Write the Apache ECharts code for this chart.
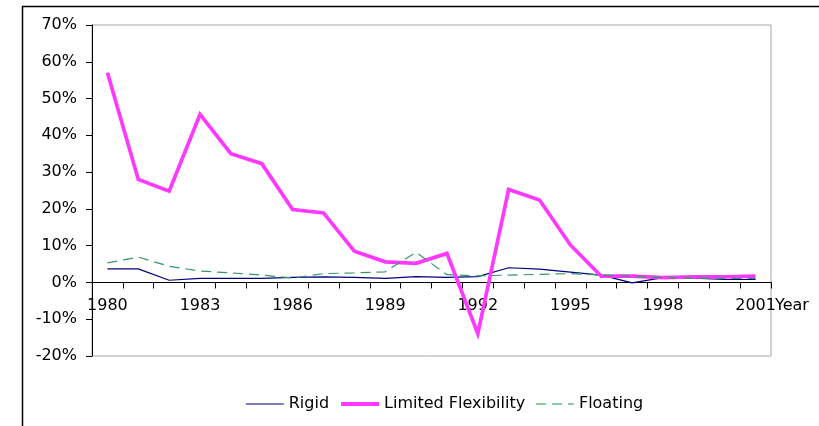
<!DOCTYPE html>
<html>
<head>
<meta charset="utf-8">
<script src="https://cdn.jsdelivr.net/npm/echarts@6/dist/echarts.min.js"></script>
<style>
html,body{margin:0;padding:0;background:#fff;}
#chart{width:819px;height:426px;}
</style>
</head>
<body>
<div id="chart"></div>
<script>
var years = ['1980','1981','1982','1983','1984','1985','1986','1987','1988','1989','1990',
             '1991','1992','1993','1994','1995','1996','1997','1998','1999','2000','2001'];
var rigid = [3.7,3.7,0.6,1.1,1.1,1.1,1.4,1.5,1.4,1.1,1.6,1.4,1.6,4.0,3.6,2.8,2.0,-0.1,1.3,1.2,0.8,0.8];
var limitedFlex = [57.0,28.0,24.8,45.7,35.0,32.3,19.8,18.9,8.5,5.6,5.2,7.9,-13.9,25.3,22.4,10.2,1.7,1.7,1.3,1.5,1.5,1.7];
var floating = [5.3,6.9,4.4,3.1,2.6,2.0,1.2,2.4,2.6,2.9,8.2,2.1,1.8,2.0,2.2,2.4,2.0,1.7,1.3,1.2,1.1,1.1];
var seriesNames = ['Rigid','Limited Flexibility','Floating'];
var xAxisName = 'Year';
var yMin = -20, yMax = 70, yStep = 10;

var FONT = 'DejaVu Sans';
var gridTop = 25, gridBottom = 70, H = 426;
var plotH = H - gridTop - gridBottom;
var zeroOffset = plotH * (0 - yMin) / (yMax - yMin);

var chart = echarts.init(document.getElementById('chart'), null, {renderer:'canvas'});
chart.setOption({
  animation: false,
  backgroundColor: '#ffffff',
  textStyle: {fontFamily: FONT, color: '#000'},
  graphic: [
    {type:'line', shape:{x1:22, y1:6.5, x2:819, y2:6.5}, style:{stroke:'#000', lineWidth:1.5}, silent:true},
    {type:'line', shape:{x1:22.5, y1:6, x2:22.5, y2:426}, style:{stroke:'#000', lineWidth:1.5}, silent:true}
  ],
  grid: {left:92, right:48, top:gridTop, bottom:gridBottom, show:true, borderColor:'#a6a6a6', borderWidth:1, backgroundColor:'transparent'},
  legend: {
    left: 240, top: 391,
    itemWidth: 38, itemHeight: 14, itemGap: 10,
    itemStyle: {color:'rgba(0,0,0,0)', borderColor:'rgba(0,0,0,0)', borderWidth:0},
    textStyle: {fontFamily: FONT, fontSize: 16, color:'#000'},
    data: [
      {name: seriesNames[0], lineStyle:{color:'#5555aa', width:1.5}},
      {name: seriesNames[1], lineStyle:{width:4}},
      {name: seriesNames[2], lineStyle:{color:'#66bb88', width:1.5}}
    ]
  },
  xAxis: {
    type: 'category',
    data: years,
    boundaryGap: true,
    position: 'bottom',
    offset: -zeroOffset,
    name: xAxisName,
    nameLocation: 'end',
    nameGap: 4,
    nameMoveOverlap: false,
    nameTextStyle: {fontFamily: FONT, fontSize: 16, color:'#000', verticalAlign:'top', padding:[15,0,0,0]},
    axisLine: {onZero: false, lineStyle: {color:'#000', width:1}},
    axisTick: {show:true, interval:0, length:6, inside:false, lineStyle:{color:'#000'}},
    axisLabel: {interval:2, margin:15, fontFamily: FONT, fontSize:16, color:'#000'},
    splitLine: {show:false}
  },
  yAxis: {
    type: 'value',
    min: yMin, max: yMax, interval: yStep,
    axisLine: {show:true, lineStyle:{color:'#000', width:1}},
    axisTick: {show:true, length:6, inside:false, lineStyle:{color:'#000'}},
    axisLabel: {formatter:'{value}%', margin:15, fontFamily: FONT, fontSize:16, color:'#000'},
    splitLine: {show:false}
  },
  series: [
    {name: seriesNames[0], type:'line', data: rigid, symbol:'none', showSymbol:false,
     lineStyle:{color:'#000080', width:1.2}, itemStyle:{color:'#000080'}},
    {name: seriesNames[1], type:'line', data: limitedFlex, symbol:'none', showSymbol:false,
     lineStyle:{color:'#ff38ff', width:3.7, join:'miter'}, itemStyle:{color:'#ff38ff'}},
    {name: seriesNames[2], type:'line', data: floating, symbol:'none', showSymbol:false,
     lineStyle:{color:'#339966', width:1.2, type:[10,6]}, itemStyle:{color:'#339966'}}
  ]
});
</script>
</body>
</html>
